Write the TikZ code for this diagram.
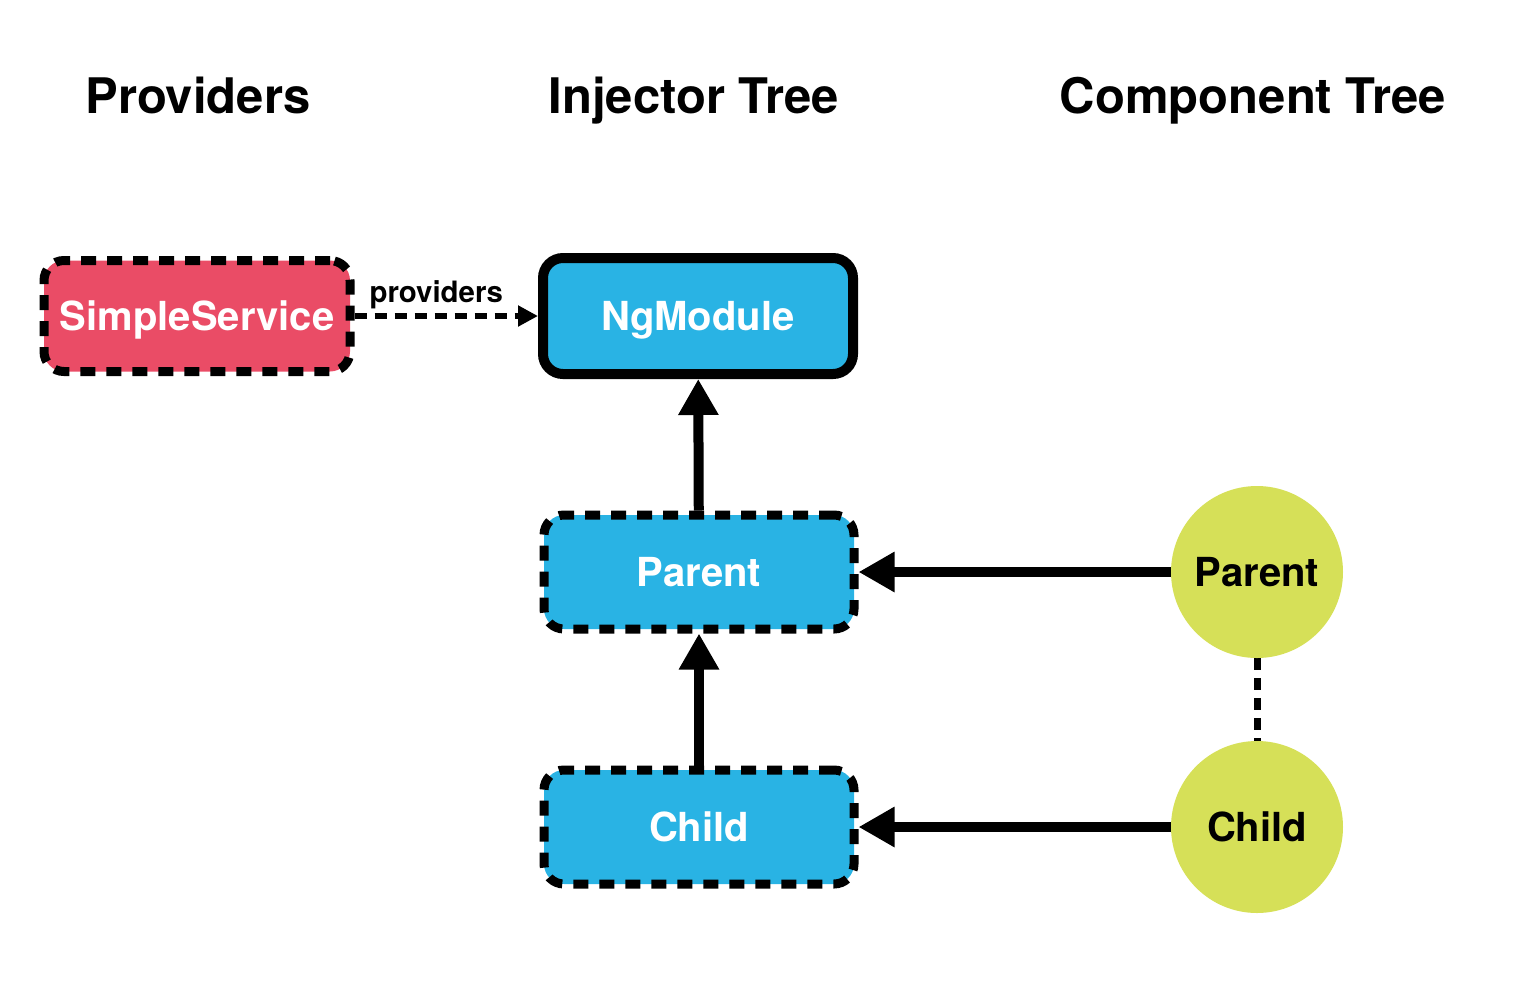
\documentclass[tikz,border=0pt]{standalone}
\usepackage{fontspec}
\setmainfont{TeX Gyre Heros}
\usepackage{tikz}
\usetikzlibrary{arrows.meta}
\pgfdeclarelayer{bg}
\pgfsetlayers{bg,main}
\definecolor{svcred}{RGB}{234,76,102}
\definecolor{injblue}{RGB}{41,179,228}
\definecolor{cmpgreen}{RGB}{214,224,88}

\begin{document}
\begin{tikzpicture}[x=0.5pt,y=-0.5pt,
        title/.style={font=\bfseries\fontsize{24.5pt}{28pt}\selectfont, anchor=base, inner sep=0pt},
        box/.style={rounded corners=10pt, minimum width=155pt, minimum height=57pt,
                text=white, font=\bfseries\fontsize{20pt}{24pt}\selectfont,
                text height=14.4pt, text depth=0pt, line width=4.5pt},
        dashbox/.style={box, draw, dash pattern=on 7.5pt off 5.5pt},
        comp/.style={circle, fill=cmpgreen, minimum size=86pt, inner sep=0pt,
                font=\bfseries\fontsize{20pt}{24pt}\selectfont,
                text height=14.4pt, text depth=0pt},
        up/.style={line width=5pt, -{Triangle[length=18pt, width=19pt]}},
        prov/.style={line width=3pt, dash pattern=on 6pt off 4pt, -{Triangle[length=10pt, width=10pt]}}]
        \useasboundingbox (0,0) rectangle (1522,998);
        \node (t0) [title] at (198, 113) {Providers};
        \node (t1) [title] at (694, 113) {Injector Tree};
        \node (t2) [title] at (1253, 113) {Component Tree};
        \node (v0) [dashbox, fill=svcred, minimum width=153pt, minimum height=55.5pt] at (197, 316) {SimpleService};
        \node (v1) [box, draw, line width=5pt, fill=injblue, minimum height=58pt] at (698, 316) {NgModule};
        \node (v2) [dashbox, fill=injblue] at (699, 572) {Parent};
        \node (v3) [dashbox, fill=injblue] at (699, 827) {Child};
        \node (v4) [comp] at (1257, 572) {Parent};
        \node (v5) [comp] at (1257, 827) {Child};
        \begin{pgfonlayer}{bg}
                \draw (v0) edge [prov] node [above, xshift=-5pt, font=\bfseries\fontsize{14.7pt}{17pt}\selectfont, inner sep=2pt] {providers} (v1);
                \draw (v2) edge [up] (v1);
                \draw (v3) edge [up] (v2);
                \draw (v4) edge [up] (v2);
                \draw (v5) edge [up] (v3);
                \draw (v4) edge [line width=3.5pt, dash pattern=on 6pt off 4pt] (v5);
        \end{pgfonlayer}
\end{tikzpicture}
\end{document}
